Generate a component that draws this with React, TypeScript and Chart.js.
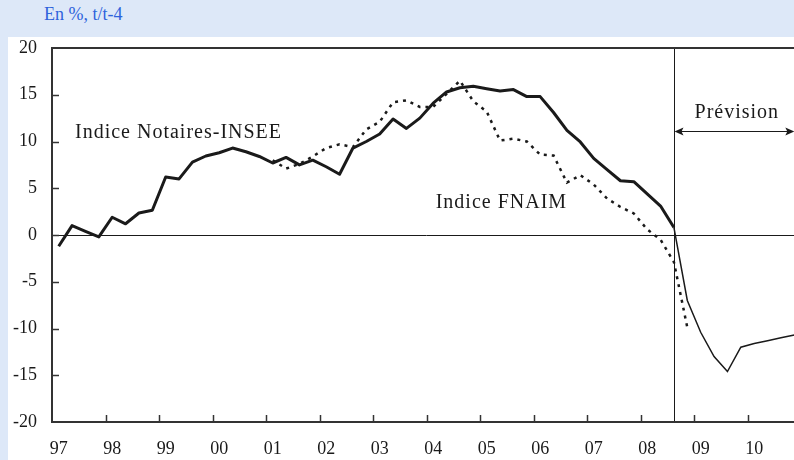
import React, { useEffect, useRef } from 'react';
import { Chart, registerables } from 'chart.js';

Chart.register(...registerables);

// ---- Data ----
const YEAR_LABELS = ['97', '98', '99', '00', '01', '02', '03', '04', '05', '06', '07', '08', '09', '10'];
const QUARTER_NAMES = ['T1', 'T2', 'T3', 'T4'];
const CATEGORIES = YEAR_LABELS.flatMap((y) => QUARTER_NAMES.map((q) => `${y} ${q}`));

// Indice Notaires-INSEE, observed, 97T1 .. 08T3
const NOTAIRES = [
  -1.2, 1.0, 0.4, -0.2,
  1.9, 1.2, 2.35, 2.65,
  6.2, 6.0, 7.8, 8.45,
  8.8, 9.3, 8.9, 8.4,
  7.7, 8.3, 7.5, 8.0,
  7.3, 6.5, 9.3, 10.0,
  10.8, 12.4, 11.4, 12.5,
  14.1, 15.3, 15.75, 15.9,
  15.65, 15.4, 15.55, 14.8,
  14.8, 13.1, 11.2, 9.95,
  8.2, 7.0, 5.8, 5.7,
  4.4, 3.1, 0.8,
];

// Indice Notaires-INSEE, forecast, 08T3 .. 10T4
const NOTAIRES_PREVISION = [0.8, -7.0, -10.4, -13.0, -14.6, -12.0, -11.6, -11.3, -11.0, -10.7];
const PREVISION_START = 46; // 08T3

// Indice FNAIM, 01T1 .. 08T4
const FNAIM = [
  8.0, 7.1, 7.6, 8.4,
  9.3, 9.7, 9.4, 11.3,
  12.1, 14.2, 14.4, 13.7,
  13.7, 15.1, 16.5, 14.3,
  13.2, 10.1, 10.3, 10.0,
  8.6, 8.5, 5.6, 6.4,
  5.4, 3.9, 3.0, 2.3,
  0.6, -0.5, -2.9, -9.9,
];
const FNAIM_START = 16; // 01T1

const Y_MIN = -20;
const Y_MAX = 20;
const Y_STEP = 5;

function pad(values: number[], start: number): (number | null)[] {
  return CATEGORIES.map((_, i) => (i >= start && i - start < values.length ? values[i - start] : null));
}

const FONT = '"Liberation Serif", "Times New Roman", serif';
const INK = '#1a1a1a';

const decorPlugin = {
  id: 'decor',
  beforeDatasetsDraw(chart: any) {
    const { ctx, chartArea: a, scales } = chart;
    const x = scales.x;
    const y = scales.y;
    ctx.save();
    ctx.strokeStyle = INK;
    ctx.lineWidth = 1;
    const y0 = Math.round(y.getPixelForValue(0)) + 0.5;
    ctx.beginPath();
    ctx.moveTo(a.left, y0);
    ctx.lineTo(a.right, y0);
    ctx.stroke();
    const xv = Math.round(x.getPixelForValue(PREVISION_START)) + 0.5;
    ctx.beginPath();
    ctx.moveTo(xv, a.top);
    ctx.lineTo(xv, a.bottom);
    ctx.stroke();
    ctx.restore();
  },
  afterDatasetsDraw(chart: any) {
    const { ctx, chartArea: a, scales } = chart;
    const x = scales.x;
    const y = scales.y;
    ctx.save();
    // frame
    ctx.strokeStyle = '#333';
    ctx.lineWidth = 2;
    ctx.beginPath();
    ctx.moveTo(a.right + 5, a.top);
    ctx.lineTo(a.left, a.top);
    ctx.lineTo(a.left, a.bottom);
    ctx.lineTo(a.right + 5, a.bottom);
    ctx.stroke();
    // x ticks between years
    ctx.lineWidth = 1.5;
    for (let k = 1; k < YEAR_LABELS.length; k++) {
      const px = Math.round((x.getPixelForValue(4 * k - 1) + x.getPixelForValue(4 * k)) / 2) + 0.5;
      ctx.beginPath();
      ctx.moveTo(px, a.bottom);
      ctx.lineTo(px, a.bottom - 7);
      ctx.stroke();
    }
    // y ticks
    for (let v = Y_MIN + Y_STEP; v < Y_MAX; v += Y_STEP) {
      const py = Math.round(y.getPixelForValue(v)) + 0.5;
      ctx.beginPath();
      ctx.moveTo(a.left, py);
      ctx.lineTo(a.left + 7, py);
      ctx.stroke();
    }
    // labels
    const step = x.getPixelForValue(1) - x.getPixelForValue(0);
    const x0 = x.getPixelForValue(0);
    ctx.fillStyle = INK;
    ctx.font = `20px ${FONT}`;
    (ctx as any).letterSpacing = '1px';
    ctx.textAlign = 'center';
    ctx.textBaseline = 'alphabetic';
    ctx.fillText('Indice Notaires-INSEE', x0 + 8.96 * step, y.getPixelForValue(10.4));
    ctx.fillText('Indice FNAIM', x0 + 33.1 * step, y.getPixelForValue(2.9));
    ctx.fillText('Prévision', x0 + 50.7 * step, y.getPixelForValue(12.55));
    // double arrow
    const ay = Math.round(y.getPixelForValue(11.1)) + 0.5;
    const x1 = Math.round(x.getPixelForValue(PREVISION_START)) + 0.5;
    const x2 = x.getPixelForValue(CATEGORIES.length - 1);
    ctx.strokeStyle = INK;
    ctx.lineWidth = 1;
    ctx.beginPath();
    ctx.moveTo(x1 + 4, ay);
    ctx.lineTo(x2 - 4, ay);
    ctx.stroke();
    ctx.beginPath();
    ctx.moveTo(x1, ay);
    ctx.lineTo(x1 + 9, ay - 4);
    ctx.lineTo(x1 + 7, ay);
    ctx.lineTo(x1 + 9, ay + 4);
    ctx.closePath();
    ctx.fill();
    ctx.beginPath();
    ctx.moveTo(x2, ay);
    ctx.lineTo(x2 - 9, ay - 4);
    ctx.lineTo(x2 - 7, ay);
    ctx.lineTo(x2 - 9, ay + 4);
    ctx.closePath();
    ctx.fill();
    ctx.restore();
  },
};

export default function App() {
  const canvasRef = useRef<HTMLCanvasElement | null>(null);

  useEffect(() => {
    const canvas = canvasRef.current;
    if (!canvas) return;
    const chart = new Chart(canvas, {
      type: 'line',
      data: {
        labels: CATEGORIES,
        datasets: [
          {
            label: 'Indice Notaires-INSEE',
            data: pad(NOTAIRES, 0),
            borderColor: INK,
            borderWidth: 3,
            pointRadius: 0,
            tension: 0,
            borderJoinStyle: 'round',
            spanGaps: false,
          },
          {
            label: 'Indice Notaires-INSEE (prévision)',
            data: pad(NOTAIRES_PREVISION, PREVISION_START),
            borderColor: INK,
            borderWidth: 1.5,
            pointRadius: 0,
            tension: 0,
          },
          {
            label: 'Indice FNAIM',
            data: pad(FNAIM, FNAIM_START),
            borderColor: INK,
            borderWidth: 2.5,
            borderDash: [3, 5],
            pointRadius: 0,
            tension: 0,
          },
        ],
      },
      options: {
        animation: false,
        responsive: false,
        maintainAspectRatio: false,
        layout: { padding: { left: 0, right: 19, top: 48, bottom: 0 } },
        plugins: {
          legend: { display: false },
          tooltip: { enabled: false },
          title: { display: false },
        },
        scales: {
          x: {
            type: 'category',
            offset: true,
            grid: { display: false, drawTicks: false },
            border: { display: false },
            ticks: {
              autoSkip: false,
              maxRotation: 0,
              minRotation: 0,
              padding: 16,
              color: INK,
              font: { family: FONT, size: 18 },
              callback: (_v: any, i: number) => (i % 4 === 0 ? YEAR_LABELS[i / 4] : ''),
            },
            afterFit: (s: any) => {
              s.height = 38;
            },
          },
          y: {
            min: Y_MIN,
            max: Y_MAX,
            grid: { display: false, drawTicks: false },
            border: { display: false },
            ticks: {
              stepSize: Y_STEP,
              padding: 15,
              color: INK,
              font: { family: FONT, size: 18 },
            },
            afterFit: (s: any) => {
              s.width = 52;
            },
          },
        },
      },
      plugins: [decorPlugin],
    } as any);
    return () => chart.destroy();
  }, []);

  return (
    <div
      style={{
        position: 'fixed',
        left: 0,
        top: 0,
        width: 794,
        height: 460,
        overflow: 'hidden',
        background: '#dde8f8',
      }}
    >
      <div
        style={{
          position: 'absolute',
          left: 8,
          top: 37,
          right: 0,
          bottom: 0,
          background: '#ffffff',
        }}
      />
      <div
        style={{
          position: 'absolute',
          left: 44,
          top: 5,
          font: `18px ${FONT}`,
          lineHeight: '18px',
          color: '#2f63dc',
          whiteSpace: 'nowrap',
        }}
      >
        En %, t/t-4
      </div>
      <canvas
        ref={canvasRef}
        width={820}
        height={460}
        style={{ position: 'absolute', left: 0, top: 0, width: 820, height: 460 }}
      />
    </div>
  );
}
